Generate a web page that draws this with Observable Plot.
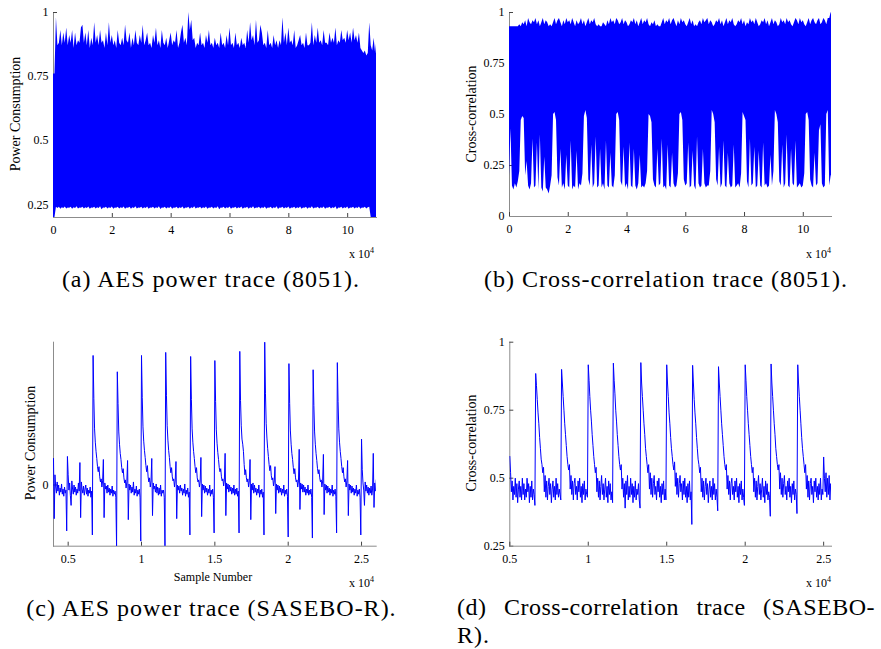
<!DOCTYPE html>
<html><head><meta charset="utf-8">
<script src="https://cdn.jsdelivr.net/npm/d3@7"></script>
<script src="https://cdn.jsdelivr.net/npm/@observablehq/plot@0.6"></script>
<style>
body{margin:0;background:#fff;}
#fig{position:relative;width:881px;height:649px;background:#fff;overflow:hidden;color:#000;}
#fig svg{position:absolute;overflow:visible;}
#fig svg text{font-family:'Liberation Serif',serif;}
#fig svg [aria-label="frame"], #fig svg [aria-label="frame"] *{stroke:#8c8c8c;}
#fig svg [aria-label$="axis tick"]{stroke:#444;}
.cap{position:absolute;font-size:24px;line-height:28px;letter-spacing:1px;white-space:nowrap;}
.yt{position:absolute;font-size:14px;line-height:14px;white-space:nowrap;transform:translate(-50%,-50%) rotate(-90deg);}
.xl{position:absolute;font-size:12px;line-height:14px;white-space:nowrap;transform:translate(-50%,-50%);}
.xe{position:absolute;font-size:12px;line-height:14px;white-space:nowrap;}
.xe sup{font-size:8px;vertical-align:5px;line-height:0;}
</style></head><body><div id="fig" style="font-family:'Liberation Serif',serif"></div><script>
// ---------- data (x in units of 10^4 samples) ----------
const abXTicks = [0, 2, 4, 6, 8, 10];
const cdXTicks = [0.5, 1, 1.5, 2, 2.5];
const aYTicks = [0.25, 0.5, 0.75, 1];
const bYTicks = [0, 0.25, 0.5, 0.75, 1];
const cYTicks = [0];
const dYTicks = [0.25, 0.5, 0.75, 1];

// (a) AES power trace (8051): envelope every 0.05 x 10^4
const aStep = 0.05;
const aTop = [0.76,0.76,0.98,0.87,0.88,0.93,0.87,0.92,0.88,0.94,
 0.87,0.91,0.88,0.93,0.86,0.92,0.87,0.89,0.88,0.94,
 0.95,0.88,0.92,0.87,0.93,0.86,0.90,0.87,0.96,0.88,
 0.91,0.87,0.93,0.88,0.89,0.86,0.92,0.87,0.96,0.88,
 0.91,0.87,0.89,0.86,0.93,0.88,0.87,0.90,0.87,0.95,
 0.89,0.88,0.92,0.86,0.90,0.87,0.93,0.88,0.87,0.91,
 0.88,0.95,0.87,0.89,0.92,0.87,0.88,0.86,0.91,0.88,
 0.94,0.87,0.89,0.86,0.93,0.88,0.87,0.90,0.86,0.89,
 0.92,0.87,0.89,0.88,0.93,0.86,0.88,0.92,0.95,0.88,
 0.90,0.87,1.00,0.93,0.97,0.89,0.90,0.86,0.88,0.87,
 0.92,0.87,0.88,0.86,0.91,0.88,0.93,0.87,0.88,0.86,
 0.90,0.87,0.88,0.86,0.92,0.87,0.88,0.86,0.91,0.87,
 0.94,0.87,0.88,0.86,0.92,0.87,0.88,0.86,0.90,0.87,
 0.88,0.86,0.93,0.88,0.96,0.89,0.91,0.87,0.97,0.88,
 0.89,0.95,0.92,0.87,0.88,0.86,0.93,0.87,0.88,0.86,
 0.91,0.87,0.89,0.86,0.89,0.87,0.98,0.88,0.92,0.87,
 0.94,0.88,0.89,0.87,0.93,0.86,0.87,0.89,0.91,0.87,
 0.88,0.86,0.92,0.87,0.87,0.88,0.96,0.87,0.91,0.88,
 0.94,0.88,0.89,0.87,0.93,0.88,0.88,0.87,0.92,0.88,
 0.90,0.88,0.94,0.87,0.89,0.88,0.93,0.89,0.90,0.88,
 0.93,0.89,0.92,0.88,0.94,0.89,0.91,0.88,0.92,0.86,
 0.85,0.84,0.85,0.83,0.84,0.96,0.87,0.85,0.90,0.84,
 0.90];
const aBot = [0.20,0.20,0.24,0.235,0.24,0.232,0.238,0.235,0.241,0.233,
 0.237,0.236,0.24,0.232,0.238,0.235,0.242,0.233,0.237,0.236,
 0.24,0.233,0.238,0.235,0.241,0.232,0.237,0.236,0.24,0.233,
 0.238,0.235,0.242,0.23,0.237,0.236,0.24,0.233,0.238,0.235,
 0.241,0.232,0.237,0.236,0.24,0.233,0.238,0.235,0.241,0.232,
 0.237,0.236,0.24,0.232,0.238,0.235,0.242,0.233,0.237,0.236,
 0.24,0.233,0.238,0.235,0.241,0.232,0.237,0.236,0.24,0.233,
 0.238,0.235,0.242,0.231,0.237,0.236,0.24,0.233,0.238,0.235,
 0.241,0.232,0.237,0.236,0.24,0.233,0.238,0.235,0.241,0.232,
 0.237,0.236,0.24,0.232,0.238,0.235,0.242,0.233,0.237,0.236,
 0.24,0.233,0.238,0.235,0.241,0.232,0.237,0.236,0.24,0.233,
 0.238,0.235,0.242,0.23,0.237,0.236,0.24,0.233,0.238,0.235,
 0.241,0.232,0.237,0.236,0.24,0.233,0.238,0.235,0.241,0.232,
 0.237,0.236,0.24,0.232,0.238,0.235,0.242,0.233,0.237,0.236,
 0.24,0.233,0.238,0.235,0.241,0.232,0.237,0.236,0.24,0.233,
 0.238,0.235,0.242,0.231,0.237,0.236,0.24,0.233,0.238,0.235,
 0.241,0.232,0.237,0.236,0.24,0.233,0.238,0.235,0.241,0.232,
 0.237,0.236,0.24,0.232,0.238,0.235,0.242,0.233,0.237,0.236,
 0.24,0.233,0.238,0.235,0.241,0.232,0.237,0.236,0.24,0.233,
 0.238,0.235,0.242,0.23,0.237,0.236,0.24,0.233,0.238,0.235,
 0.241,0.232,0.237,0.236,0.24,0.233,0.238,0.235,0.241,0.232,
 0.237,0.236,0.24,0.233,0.238,0.24,0.20,0.20,0.20,0.20,
 0.20];

// (b) Cross-correlation trace (8051): envelope every 0.05 x 10^4
const bStep = 0.05;
const bTop = [0.93,0.93,0.93,0.93,0.93,0.93,0.93,0.94,0.93,0.95,
 0.94,0.96,0.93,0.97,0.95,0.94,0.96,0.95,0.97,0.94,
 0.96,0.93,0.95,0.97,0.94,0.96,0.95,0.93,0.94,0.93,
 0.95,0.97,0.94,0.96,0.97,0.95,0.93,0.96,0.94,0.97,
 0.95,0.96,0.94,0.97,0.95,0.93,0.96,0.94,0.95,0.97,
 0.94,0.96,0.93,0.95,0.97,0.94,0.96,0.95,0.97,0.94,
 0.93,0.94,0.93,0.93,0.95,0.94,0.93,0.96,0.94,0.97,
 0.95,0.96,0.94,0.97,0.96,0.94,0.95,0.97,0.94,0.96,
 0.95,0.93,0.94,0.96,0.95,0.97,0.94,0.96,0.93,0.95,
 0.97,0.94,0.96,0.95,0.97,0.94,0.93,0.95,0.94,0.96,
 0.93,0.94,0.93,0.93,0.95,0.97,0.94,0.96,0.95,0.97,
 0.94,0.96,0.97,0.95,0.93,0.96,0.94,0.97,0.95,0.96,
 0.94,0.93,0.95,0.97,0.94,0.96,0.93,0.94,0.93,0.95,
 0.96,0.94,0.97,0.95,0.96,0.97,0.94,0.96,0.95,0.93,
 0.94,0.96,0.95,0.97,0.94,0.96,0.93,0.95,0.97,0.94,
 0.96,0.95,0.97,0.94,0.93,0.94,0.96,0.95,0.97,0.94,
 0.96,0.93,0.95,0.94,0.97,0.95,0.96,0.94,0.97,0.95,
 0.93,0.94,0.96,0.95,0.97,0.94,0.96,0.93,0.95,0.97,
 0.94,0.96,0.95,0.93,0.94,0.97,0.95,0.96,0.94,0.97,
 0.95,0.96,0.94,0.93,0.95,0.97,0.96,0.94,0.97,0.95,
 0.96,0.94,0.93,0.95,0.97,0.94,0.96,0.97,0.95,0.94,
 0.96,0.97,0.94,0.95,0.97,0.96,0.94,0.97,0.97,1.00,
 0.98];
const bBot = [0.20,0.43,0.15,0.13,0.16,0.14,0.17,0.22,0.47,0.49,
 0.48,0.20,0.27,0.15,0.13,0.16,0.38,0.14,0.15,0.36,
 0.13,0.40,0.14,0.12,0.29,0.14,0.13,0.11,0.15,0.20,
 0.50,0.51,0.47,0.19,0.15,0.33,0.14,0.16,0.13,0.30,
 0.15,0.14,0.37,0.13,0.15,0.14,0.32,0.13,0.16,0.15,
 0.21,0.49,0.52,0.48,0.18,0.15,0.35,0.14,0.16,0.39,
 0.14,0.15,0.33,0.14,0.16,0.13,0.37,0.15,0.14,0.31,
 0.15,0.14,0.20,0.50,0.51,0.47,0.17,0.15,0.34,0.14,
 0.16,0.13,0.36,0.15,0.14,0.33,0.15,0.13,0.16,0.30,
 0.14,0.15,0.14,0.16,0.22,0.50,0.49,0.46,0.18,0.15,
 0.14,0.33,0.15,0.16,0.38,0.14,0.15,0.13,0.35,0.15,
 0.14,0.31,0.16,0.14,0.15,0.21,0.50,0.51,0.47,0.18,
 0.15,0.16,0.36,0.14,0.15,0.32,0.15,0.13,0.39,0.16,
 0.14,0.15,0.33,0.16,0.14,0.15,0.15,0.22,0.52,0.50,
 0.46,0.18,0.15,0.34,0.14,0.16,0.37,0.15,0.14,0.31,
 0.16,0.14,0.15,0.35,0.14,0.15,0.16,0.14,0.21,0.51,
 0.49,0.47,0.17,0.14,0.38,0.15,0.16,0.34,0.14,0.15,
 0.32,0.15,0.14,0.36,0.15,0.16,0.14,0.15,0.30,0.15,
 0.22,0.52,0.50,0.46,0.17,0.15,0.35,0.14,0.16,0.40,
 0.15,0.14,0.33,0.16,0.15,0.37,0.14,0.15,0.16,0.14,
 0.15,0.21,0.50,0.51,0.47,0.18,0.15,0.14,0.31,0.15,
 0.16,0.42,0.45,0.16,0.14,0.15,0.50,0.52,0.15,0.20,
 0.20];

// (c) AES power trace (SASEBO-R): every 0.005 x 10^4 from 0.4
const cStart = 0.4, cStep = 0.005;
const cVals = [
 0.26,-0.33,0.10,-0.02,-0.08,0.03,-0.06,0.00,-0.10,-0.03,
 -0.07,0.01,-0.09,-0.04,-0.11,-0.02,-0.08,-0.05,-0.45,0.28,
 0.10,-0.05,0.02,-0.10,-0.20,0.04,-0.04,-0.09,0.00,-0.07,
 -0.02,-0.10,-0.04,-0.08,0.02,-0.06,0.22,-0.32,0.03,-0.04,
 -0.08,-0.01,-0.10,-0.04,0.00,-0.09,-0.03,-0.11,-0.05,-0.08,
 -0.02,-0.12,-0.06,
 -0.49,1.27,
 0.85,0.55,0.42,0.33,0.26,0.18,0.13,0.18,0.08,0.03,0.06,-0.02,0.04,0.25,-0.32,0.02,-0.04,
 -0.01,-0.08,0.00,-0.07,-0.03,-0.10,-0.04,-0.08,-0.01,-0.11,-0.05,-0.09,-0.06,-0.12,
 -0.60,1.11,
 0.80,0.52,0.40,0.31,0.25,0.17,0.12,0.16,0.07,0.02,0.05,-0.03,0.03,0.24,-0.34,0.01,-0.05,
 0.00,-0.08,-0.02,-0.07,0.03,-0.10,-0.04,-0.08,-0.01,-0.11,-0.05,-0.09,-0.04,-0.12,
 -0.55,1.27,
 0.86,0.57,0.43,0.34,0.27,0.19,0.13,0.19,0.08,0.03,0.07,-0.02,0.04,0.26,-0.30,0.02,-0.04,
 -0.01,-0.07,0.01,-0.08,-0.02,-0.10,-0.03,-0.09,0.00,-0.11,-0.05,-0.08,-0.05,-0.12,
 -0.60,1.30,
 0.88,0.58,0.44,0.34,0.27,0.18,0.12,0.17,0.08,0.04,0.06,-0.02,0.05,0.23,-0.33,0.00,-0.05,
 -0.01,-0.08,0.00,-0.06,-0.03,-0.10,-0.04,-0.08,0.01,-0.11,-0.05,-0.09,-0.03,-0.12,-0.07,
 -0.49,1.26,
 0.84,0.55,0.42,0.33,0.26,0.18,0.12,0.17,0.07,0.03,0.05,-0.02,0.04,0.27,-0.31,0.01,-0.05,
 0.00,-0.08,-0.01,-0.07,-0.03,-0.10,-0.04,-0.08,0.00,-0.11,-0.05,-0.09,-0.04,-0.12,
 -0.47,1.22,
 0.82,0.54,0.41,0.32,0.25,0.17,0.13,0.16,0.08,0.04,0.06,-0.01,0.05,0.31,-0.30,0.02,-0.04,
 0.01,-0.07,0.00,-0.06,-0.02,-0.09,-0.03,-0.08,0.00,-0.10,-0.04,-0.09,-0.03,-0.11,-0.06,
 -0.47,1.31,
 0.83,0.58,0.45,0.40,0.33,0.20,0.10,0.15,0.07,0.03,0.06,-0.02,0.04,0.25,-0.34,0.01,-0.05,
 0.02,-0.08,0.00,-0.07,-0.03,-0.10,-0.04,-0.08,0.00,-0.12,-0.05,-0.09,-0.04,-0.12,-0.07,
 -0.49,1.40,
 0.90,0.60,0.46,0.36,0.28,0.20,0.14,0.19,0.09,0.05,0.07,-0.01,0.04,0.18,-0.28,0.01,-0.05,
 0.00,-0.08,-0.01,-0.07,-0.03,-0.10,-0.04,-0.08,0.00,-0.11,-0.05,-0.09,-0.04,-0.11,
 -0.51,1.19,
 0.80,0.53,0.40,0.31,0.25,0.17,0.11,0.16,0.07,0.03,0.05,-0.02,0.04,0.35,-0.24,0.02,-0.04,
 0.01,-0.07,0.00,-0.07,-0.02,-0.10,-0.04,-0.08,0.00,-0.10,-0.05,-0.09,-0.04,-0.12,
 -0.52,1.13,
 0.78,0.52,0.40,0.31,0.24,0.16,0.11,0.15,0.07,0.03,0.05,-0.02,0.04,0.30,-0.29,0.01,-0.05,
 0.00,-0.08,-0.01,-0.07,-0.03,-0.10,-0.04,-0.08,0.00,-0.11,-0.05,-0.09,-0.04,-0.11,
 -0.47,1.20,
 0.82,0.55,0.42,0.33,0.26,0.18,0.12,0.17,0.08,0.03,0.06,-0.02,0.04,0.24,-0.30,0.01,-0.05,
 0.00,-0.08,-0.01,-0.07,-0.03,-0.10,-0.04,-0.08,0.00,-0.11,-0.05,-0.09,-0.04,-0.12,
 -0.49,0.45,
 0.15,0.02,-0.05,-0.20,0.03,-0.06,0.00,-0.08,-0.02,-0.10,-0.03,-0.08,-0.01,-0.10,-0.05,0.31,-0.22,0.02,-0.06,0.05];

// (d) Cross-correlation trace (SASEBO-R): every 0.005 x 10^4 from 0.5
const dStart = 0.5, dStep = 0.005;
const dVals = [
 0.58,0.52,0.45,0.49,0.42,0.47,0.44,0.50,0.43,0.48,0.41,0.46,0.49,0.43,0.47,0.42,0.50,0.44,0.48,0.42,0.46,0.43,0.50,0.45,0.48,0.41,0.47,0.43,0.49,0.42,0.46,0.44,
 0.40,0.885,
 0.84,0.79,0.74,0.70,0.65,0.61,0.57,0.55,0.52,0.54,
 0.45,0.51,0.43,0.49,0.42,0.47,0.50,0.44,0.48,0.41,0.46,0.49,0.43,0.47,0.42,0.50,0.44,0.48,0.43,0.46,0.44,
 0.42,0.90,
 0.85,0.80,0.75,0.70,0.66,0.62,0.58,0.55,0.53,0.55,
 0.46,0.51,0.44,0.49,0.42,0.48,0.50,0.44,0.47,0.42,0.49,0.45,0.50,0.43,0.47,0.41,0.48,0.44,0.49,0.42,0.46,0.44,
 0.43,0.917,
 0.86,0.80,0.75,0.71,0.66,0.62,0.58,0.55,0.52,0.54,
 0.45,0.50,0.43,0.49,0.42,0.47,0.51,0.44,0.48,0.42,0.46,0.50,0.43,0.47,0.41,0.49,0.44,0.48,0.42,0.45,
 0.41,0.923,
 0.86,0.81,0.75,0.71,0.66,0.62,0.58,0.55,0.53,0.55,
 0.46,0.50,0.43,0.48,0.39,0.49,0.44,0.51,0.42,0.47,0.43,0.50,0.44,0.48,0.41,0.47,0.43,0.49,0.42,0.46,0.44,0.48,0.42,
 0.39,0.925,
 0.85,0.80,0.75,0.70,0.66,0.61,0.58,0.55,0.52,0.55,
 0.46,0.52,0.44,0.50,0.43,0.48,0.51,0.44,0.47,0.42,0.49,0.45,0.50,0.43,0.47,0.41,0.48,0.44,0.49,0.42,0.46,
 0.42,0.917,
 0.85,0.80,0.74,0.70,0.65,0.61,0.58,0.55,0.53,0.56,
 0.47,0.52,0.44,0.50,0.43,0.48,0.51,0.45,0.48,0.42,0.49,0.44,0.50,0.43,0.47,0.41,0.48,0.43,0.49,0.42,0.45,
 0.33,0.915,
 0.85,0.79,0.74,0.70,0.65,0.61,0.57,0.55,0.52,0.54,
 0.45,0.50,0.43,0.49,0.42,0.47,0.50,0.44,0.48,0.41,0.46,0.49,0.43,0.47,0.42,0.50,0.44,0.48,0.42,0.46,0.43,
 0.38,0.91,
 0.85,0.80,0.75,0.70,0.66,0.62,0.58,0.55,0.53,0.55,
 0.46,0.51,0.44,0.49,0.42,0.48,0.50,0.44,0.47,0.42,0.49,0.45,0.50,0.43,0.47,0.41,0.48,0.44,0.49,0.42,0.46,0.43,
 0.40,0.917,
 0.86,0.80,0.75,0.70,0.66,0.62,0.58,0.55,0.52,0.54,
 0.45,0.50,0.43,0.49,0.42,0.47,0.51,0.44,0.48,0.42,0.46,0.50,0.43,0.47,0.41,0.49,0.44,0.48,0.42,0.45,0.43,
 0.36,0.92,
 0.85,0.80,0.75,0.70,0.66,0.61,0.58,0.55,0.53,0.55,
 0.46,0.52,0.44,0.50,0.43,0.48,0.51,0.44,0.47,0.42,0.49,0.45,0.50,0.43,0.47,0.41,0.48,0.44,0.49,0.42,0.46,0.44,
 0.37,0.917,
 0.85,0.80,0.75,0.70,0.65,0.61,0.58,0.55,0.52,0.55,
 0.46,0.51,0.43,0.49,0.42,0.48,0.50,0.44,0.47,0.41,0.49,0.45,0.50,0.43,0.47,0.42,0.48,0.44,0.50,0.42,0.46,0.44,
 0.578,
 0.50,0.45,0.52,0.43,0.50,0.44,0.51,0.42,0.48,0.45];

const captions = {
  a: "(a) AES power trace (8051).",
  b: "(b) Cross-correlation trace (8051).",
  c: "(c) AES power trace (SASEBO-R).",
  d1: "(d) Cross-correlation trace (SASEBO-",
  d2: "R)."
};
const yTitles = {a: "Power Consumption", b: "Cross-correlation", c: "Power Consumption", d: "Cross-correlation"};
const xTitleC = "Sample Number";

// ---------- tables ----------
const aData = aTop.map((hi, i) => ({x: i * aStep, hi, lo: aBot[i]}));
const bData = bTop.map((hi, i) => ({x: i * bStep, hi, lo: bBot[i]}));
const cData = cVals.map((v, i) => ({x: cStart + i * cStep, v}));
const dData = dVals.map((v, i) => ({x: dStart + i * dStep, v}));

const fig = document.getElementById("fig");
const BLUE = "#0000ff";
const FONT = "'Liberation Serif', serif";
const fmt = d => String(d);

function panel({left, top, width, height, ml, mr, mt, mb, xdom, xticks, ydom, yticks, marks}) {
  const p = Plot.plot({
    width, height, marginLeft: ml, marginRight: mr, marginTop: mt, marginBottom: mb,
    style: {fontFamily: FONT, fontSize: "12px", background: "none", color: "#000", overflow: "visible"},
    x: {domain: xdom, ticks: xticks, tickSize: -4, tickPadding: 12, label: null, line: true, tickFormat: fmt},
    y: {domain: ydom, ticks: yticks, tickSize: -4, tickPadding: 9, label: null, line: true, tickFormat: fmt},
    marks
  });
  p.style.left = left + "px";
  p.style.top = top + "px";
  p.style.fontFamily = FONT;
  fig.appendChild(p);
}

panel({left: 0, top: 0, width: 440, height: 240, ml: 53, mr: 64, mt: 12, mb: 23,
  xdom: [0, 10.98], xticks: abXTicks, ydom: [0.2, 1], yticks: aYTicks,
  marks: [Plot.areaY(aData, {x: "x", y1: "lo", y2: "hi", fill: BLUE, clip: true})]});

panel({left: 440, top: 0, width: 441, height: 240, ml: 69, mr: 50, mt: 12, mb: 24,
  xdom: [0, 10.96], xticks: abXTicks, ydom: [0, 1], yticks: bYTicks,
  marks: [Plot.areaY(bData, {x: "x", y1: "lo", y2: "hi", fill: BLUE, clip: true})]});

panel({left: 0, top: 330, width: 440, height: 240, ml: 53, mr: 64.3, mt: 11.7, mb: 24.3,
  xdom: [0.4, 2.6], xticks: cdXTicks, ydom: [-0.6, 1.4], yticks: cYTicks,
  marks: [Plot.line(cData, {x: "x", y: "v", stroke: BLUE, strokeWidth: 1, clip: true})]});

panel({left: 440, top: 330, width: 441, height: 240, ml: 69.3, mr: 50, mt: 11.7, mb: 24.3,
  xdom: [0.5, 2.55], xticks: cdXTicks, ydom: [0.25, 1], yticks: dYTicks,
  marks: [Plot.line(dData, {x: "x", y: "v", stroke: BLUE, strokeWidth: 1, clip: true})]});

// ---------- text ----------
function div(cls, html, css) {
  const e = document.createElement("div");
  e.className = cls;
  e.innerHTML = html;
  Object.assign(e.style, {fontFamily: FONT}, css);
  fig.appendChild(e);
  return e;
}
div("yt", yTitles.a, {left: "16px", top: "114px"});
div("yt", yTitles.b, {left: "471.5px", top: "114px"});
div("yt", yTitles.c, {left: "30.5px", top: "443px"});
div("yt", yTitles.d, {left: "471.5px", top: "443px"});
div("xl", xTitleC, {left: "213px", top: "577px"});

const exp = "x 10<sup>4</sup>";
div("xe", exp, {right: "507px", top: "247px"});
div("xe", exp, {right: "50px", top: "247px"});
div("xe", exp, {right: "507px", top: "576px"});
div("xe", exp, {right: "50px", top: "576px"});

div("cap", captions.a, {left: "0px", width: "422px", textAlign: "center", top: "265px"});
div("cap", captions.b, {left: "446px", width: "440px", textAlign: "center", top: "265px"});
div("cap", captions.c, {left: "0px", width: "423px", textAlign: "center", top: "594px"});
div("cap", captions.d1, {left: "457px", width: "418px", textAlign: "justify", textAlignLast: "justify", top: "593px", letterSpacing: "0.5px"});
div("cap", captions.d2, {left: "457px", top: "621px"});
</script></body></html>
